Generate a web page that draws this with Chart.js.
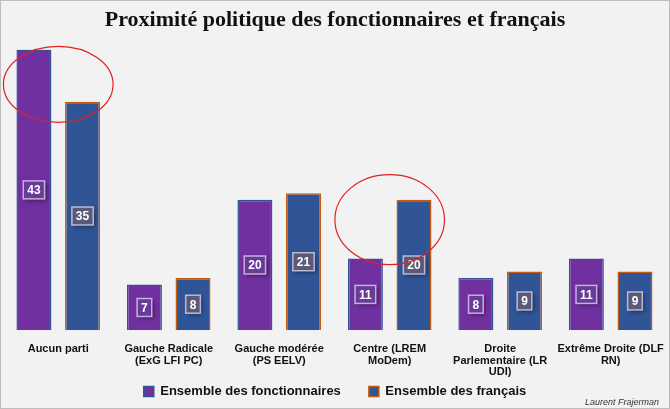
<!DOCTYPE html><html><head><meta charset="utf-8">
<script src="https://cdn.jsdelivr.net/npm/chart.js@4"></script>
<style>html,body{margin:0;padding:0;background:#fff}#w{width:668px;height:407px;border:1px solid #bdbdbd;background:#f2f2f2}</style>
</head><body><div id="w"><canvas id="c"></canvas></div>
<script>
const categories=[["Aucun parti"],["Gauche Radicale","(ExG LFI PC)"],["Gauche modérée","(PS EELV)"],["Centre (LREM","MoDem)"],["Droite","Parlementaire (LR","UDI)"],["Extrême Droite (DLF","RN)"]];
const fonctionnaires=[43,7,20,11,8,11];
const francais=[35,8,21,20,9,9];
const seriesNames=["Ensemble des fonctionnaires","Ensemble des français"];
const circled=[[0,0,1],[3,0,1]]; // [category, first dataset, last dataset]

const labelPlugin={id:'lbl',afterDatasetsDraw(ch){const c=ch.ctx;
 ch.data.datasets.forEach((ds,di)=>{ch.getDatasetMeta(di).data.forEach((b,i)=>{
  const y=(b.y+b.base)/2, t=String(ds.data[i]);
  c.save();c.font='bold 12px "Liberation Sans"';const w=c.measureText(t).width+8,h=18;
  c.shadowColor='rgba(0,0,0,0.4)';c.shadowBlur=4;c.shadowOffsetX=2;c.shadowOffsetY=2;
  c.fillStyle=di==0?'#6a3a9a':'#5a5a78';c.fillRect(b.x-w/2,y-h/2,w,h);c.shadowColor='transparent';
  c.strokeStyle='rgba(220,210,235,0.8)';c.lineWidth=1.5;c.strokeRect(b.x-w/2,y-h/2,w,h);
  c.fillStyle='#fff';c.textAlign='center';c.textBaseline='middle';c.fillText(t,b.x,y+1);c.restore();});});
 circled.forEach(([ci,a,bb],k)=>{const e1=ch.getDatasetMeta(a).data[ci],e2=ch.getDatasetMeta(bb).data[ci];
  const top=Math.min(e1.y,e2.y),cx=(e1.x+e2.x)/2,rx=(e2.x-e1.x)/2+e1.width/2+13;
  c.save();c.strokeStyle='#e02020';c.lineWidth=1.2;c.beginPath();c.ellipse(cx,top+(k==0?35:20),rx,k==0?38:45,0,0,2*Math.PI);c.stroke();c.restore();});
 c.save();c.font='italic 9px "Liberation Sans"';c.fillStyle='#333';c.textAlign='right';c.fillText('Laurent Frajerman',ch.width-10,ch.height-6);c.restore();
}};

new Chart(document.getElementById('c'),{type:'bar',
 data:{labels:categories,datasets:[
  {label:seriesNames[0],data:fonctionnaires,backgroundColor:'#7030a0',borderColor:'#2f5597',borderWidth:1.5},
  {label:seriesNames[1],data:francais,backgroundColor:'#2f5597',borderColor:'#c55a11',borderWidth:1.5}]},
 options:{responsive:true,maintainAspectRatio:false,animation:false,
  layout:{padding:{left:2,right:2,top:0,bottom:0}},
  datasets:{bar:{categoryPercentage:0.88,barPercentage:0.72}},
  scales:{x:{grid:{display:false},border:{display:false},ticks:{color:'#111',font:{family:'Liberation Sans',weight:'bold',size:11,lineHeight:1.05},padding:5,maxRotation:0,autoSkip:false}},
   y:{display:false,min:0,max:43}},
  plugins:{title:{display:true,text:'Proximité politique des fonctionnaires et français',color:'#111',font:{family:'Liberation Serif',weight:'bold',size:22},padding:{top:6,bottom:16}},
   legend:{position:'bottom',labels:{boxWidth:10,boxHeight:10,color:'#111',font:{family:'Liberation Sans',weight:'bold',size:13},padding:2,
    generateLabels(ch){const l=Chart.defaults.plugins.legend.labels.generateLabels(ch);l.forEach((x,i)=>{if(i<l.length-1)x.text=x.text+'\u2003\u2003';});return l;}}},tooltip:{enabled:false}}},
 plugins:[labelPlugin]});
</script></body></html>
